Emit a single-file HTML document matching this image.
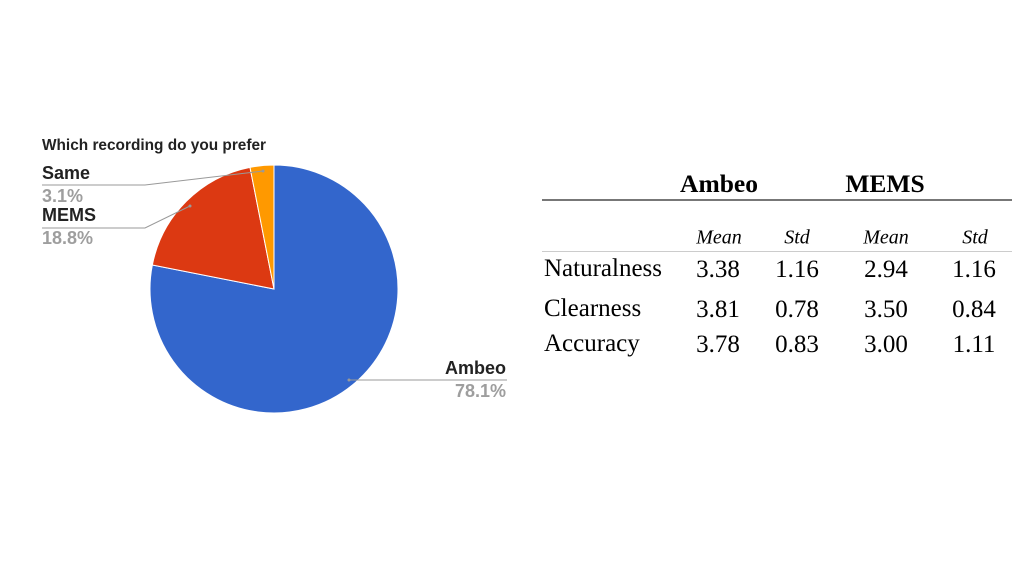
<!DOCTYPE html>
<html><head><meta charset="utf-8"><style>
body{margin:0;width:1021px;height:572px;background:#fff;position:relative;overflow:hidden;font-family:"Liberation Sans",Arial,sans-serif}
.a{position:absolute;white-space:nowrap}
.b{font-weight:bold;font-size:18px;color:#222}
.g{font-weight:bold;font-size:18px;color:#9e9e9e}
.t{font-family:"Liberation Serif",serif;position:absolute;white-space:nowrap;transform:translate(-50%,-50%);color:#000}
</style></head><body>
<div class="a" style="left:42px;top:137px;font-size:15.4px;font-weight:bold;color:#222">Which recording do you prefer</div>
<svg id="pie" width="1021" height="572" style="position:absolute;left:0;top:0"></svg>
<div class="a b" style="left:42px;top:163px">Same</div>
<div class="a g" style="left:42px;top:186px">3.1%</div>
<div class="a b" style="left:42px;top:205px">MEMS</div>
<div class="a g" style="left:42px;top:228px">18.8%</div>
<div class="a b" style="right:515px;top:358px">Ambeo</div>
<div class="a g" style="right:515px;top:381px">78.1%</div>

<div class="t" style="left:719px;top:184px;font-size:25.5px;font-weight:bold">Ambeo</div>
<div class="t" style="left:885px;top:184px;font-size:25.5px;font-weight:bold">MEMS</div>
<div class="a" style="left:542px;top:199px;width:470px;height:2px;background:#777"></div>
<div class="a" style="left:542px;top:251px;width:470px;height:1px;background:#ccc"></div>
<div class="t" style="left:719px;top:238px;font-size:20px;font-style:italic">Mean</div>
<div class="t" style="left:797px;top:238px;font-size:20px;font-style:italic">Std</div>
<div class="t" style="left:886px;top:238px;font-size:20px;font-style:italic">Mean</div>
<div class="t" style="left:975px;top:238px;font-size:20px;font-style:italic">Std</div>
<div id="tbl"></div>
<script>
const cats=["Ambeo","MEMS","Same"];
const vals=[78.1,18.8,3.1];
const colors=["#3366cc","#dc3912","#ff9900"];
const rowNames=["Naturalness","Clearness","Accuracy"];
const ambeoMean=["3.38","3.81","3.78"];
const ambeoStd=["1.16","0.78","0.83"];
const memsMean=["2.94","3.50","3.00"];
const memsStd=["1.16","0.84","1.11"];
const ns="http://www.w3.org/2000/svg";
const svg=document.getElementById('pie');
const cx=274,cy=289,r=124;
const tot=vals.reduce((a,b)=>a+b,0);
function pt(f,rr){const a=f*2*Math.PI;return [cx+rr*Math.sin(a),cy-rr*Math.cos(a)];}
let acc=0;
vals.forEach((v,i)=>{
  const s=acc/tot,e=(acc+v)/tot;acc+=v;
  const p0=pt(s,r),p1=pt(e,r);
  const p=document.createElementNS(ns,'path');
  p.setAttribute('d',`M${cx},${cy}L${p0[0]},${p0[1]}A${r},${r} 0 ${e-s>0.5?1:0} 1 ${p1[0]},${p1[1]}Z`);
  p.setAttribute('fill',colors[i]);p.setAttribute('stroke','#fff');p.setAttribute('stroke-width','1');
  
  
  svg.appendChild(p);
});
const leaders=[["ambeo","349,380 507,380"],["mems","190,206 145,228 42,228"],["same","263,171 145,185 42,185"]];
leaders.forEach(l=>{
  const pl=document.createElementNS(ns,'polyline');
  pl.setAttribute('points',l[1]);pl.setAttribute('fill','none');pl.setAttribute('stroke','#999');pl.setAttribute('stroke-width','1');
  
  
  svg.appendChild(pl);
  const c=l[1].split(' ')[0].split(',');
  const d=document.createElementNS(ns,'circle');
  d.setAttribute('cx',c[0]);d.setAttribute('cy',c[1]);d.setAttribute('r','1.5');d.setAttribute('fill','#999');
  
  
  svg.appendChild(d);
});
const tbl=document.getElementById('tbl');
const ys=[270,310,345];
const cols=[[718,ambeoMean],[797,ambeoStd],[886,memsMean],[974,memsStd]];
rowNames.forEach((n,i)=>{
  const d=document.createElement('div');
  d.className='a';d.style.cssText=`left:544px;top:${ys[i]-15}px;font-family:"Liberation Serif",serif;font-size:25px`;
  d.textContent=n;
  
  
  tbl.appendChild(d);
  cols.forEach((c,j)=>{
    const e=document.createElement('div');
    e.className='t';e.style.cssText=`left:${c[0]}px;top:${ys[i]}px;font-size:25px`;
    e.textContent=c[1][i];
    
    
    tbl.appendChild(e);
  });
});
</script>
</body></html>
